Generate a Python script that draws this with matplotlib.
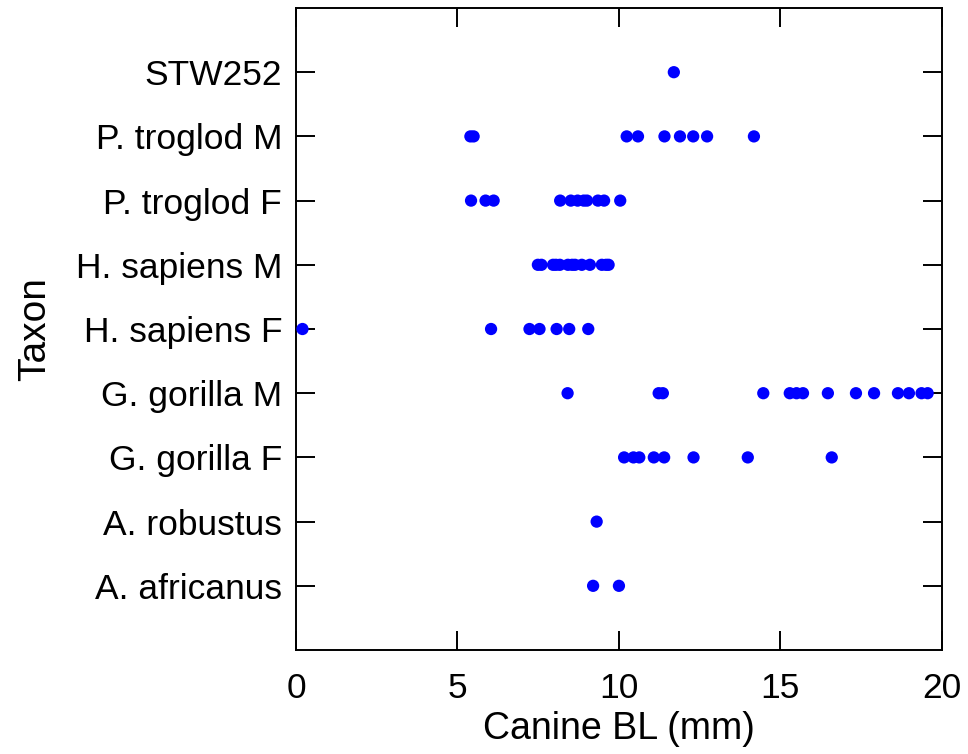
import matplotlib
matplotlib.use("Agg")
import matplotlib.pyplot as plt

plt.rcParams['font.family'] = ['Liberation Sans', 'DejaVu Sans']

taxa = ["A. africanus", "A. robustus", "G. gorilla F", "G. gorilla M",
        "H. sapiens F", "H. sapiens M", "P. troglod F", "P. troglod M", "STW252"]

a_africanus = [9.20, 10.00]
a_robustus = [9.31]
g_gorilla_f = [10.16, 10.45, 10.63, 11.08, 11.40, 12.31, 13.99, 16.59]
g_gorilla_m = [8.41, 11.23, 11.36, 14.47, 15.29, 15.50, 15.70, 16.47, 17.34,
               17.90, 18.64, 18.98, 19.37, 19.56]
h_sapiens_f = [0.20, 6.04, 7.23, 7.54, 8.07, 8.46, 9.05]
h_sapiens_m = [7.49, 7.60, 7.96, 8.05, 8.17, 8.42, 8.55, 8.64, 8.85, 9.10,
               9.47, 9.60, 9.68]
p_troglod_f = [5.42, 5.87, 6.12, 8.18, 8.51, 8.72, 8.91, 9.01, 9.35, 9.54, 10.04]
p_troglod_m = [5.40, 5.50, 10.24, 10.59, 11.41, 11.89, 12.30, 12.73, 14.18]
stw252 = [11.70]

series = [a_africanus, a_robustus, g_gorilla_f, g_gorilla_m, h_sapiens_f,
          h_sapiens_m, p_troglod_f, p_troglod_m, stw252]

fig = plt.figure(figsize=(9.68, 7.54), dpi=100)
ax = fig.add_axes([0.3058, 0.1379, 0.973 - 0.3058, 0.9894 - 0.1379])

for i, vals in enumerate(series, start=1):
    ax.scatter(vals, [i] * len(vals), s=78, color='#0000ff', edgecolors='none',
               zorder=3)

ax.set_xlim(0, 20)
ax.set_ylim(0, 10)
ax.set_xticks([0, 5, 10, 15, 20])
ax.set_yticks(range(1, 10))
ax.set_yticklabels(taxa)

ax.tick_params(axis='both', direction='in', length=13.7, width=1.4,
               labelsize=25.5, top=True, right=True, pad=10)
ax.tick_params(axis='x', pad=15.5)
for sp in ax.spines.values():
    sp.set_linewidth(1.4)

ax.set_xlabel("Canine BL (mm)", fontsize=27, labelpad=5)
ax.set_ylabel("Taxon", fontsize=28, labelpad=16)

fig.savefig("out.png", dpi=100)
